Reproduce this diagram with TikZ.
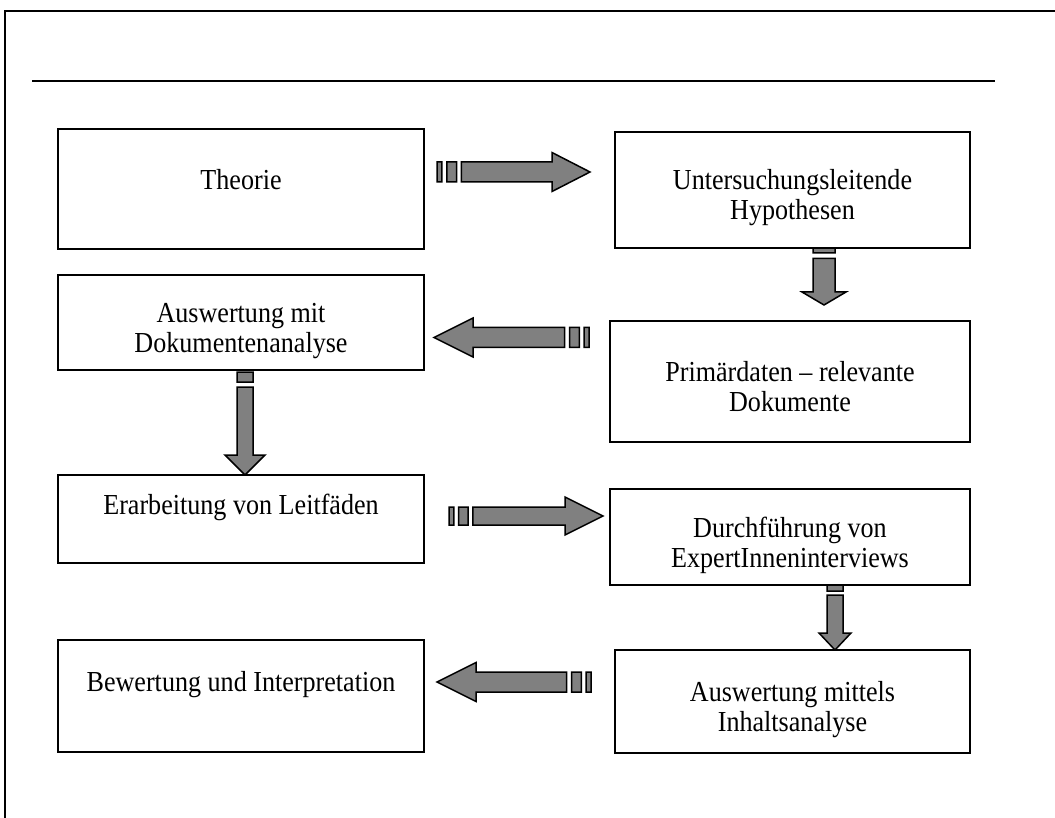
\documentclass[tikz,border=0pt]{standalone}
\usepackage{fontspec}
\setmainfont[FakeStretch=0.9]{Liberation Serif}
\usetikzlibrary{calc,backgrounds}
\definecolor{arrowgray}{RGB}{128,128,128}

\begin{document}
\begin{tikzpicture}[x=1pt,y=-1pt,
  box/.style={draw,line width=2pt,fill=white,align=center,inner sep=0pt,font=\fontsize{29}{30}\selectfont},
  upper/.style={text height=20pt,text depth=30pt},
  twolines/.style={text height=60pt,text depth=0pt},
  stripe arrow/.style n args={3}{draw=black,fill=arrowgray,line width=1.5pt,
    to path={let \p1=(\tikztostart), \p2=(\tikztotarget),
      \n1={atan2(\y2-\y1,\x2-\x1)}, \n2={veclen(\x2-\x1,\y2-\y1)}, \n3={#2/4*1pt} in
      {[shift={(\p1)},rotate=\n1]
        (0pt,-#1pt) rectangle (\n3,#1pt)
        ({2*\n3},-#1pt) rectangle ({4*\n3},#1pt)
        ({5*\n3},-#1pt) -- ({\n2-#3pt},-#1pt) -- ({\n2-#3pt},-#2pt) -- (\n2,0pt)
          -- ({\n2-#3pt},#2pt) -- ({\n2-#3pt},#1pt) -- ({5*\n3},#1pt) -- cycle}}}]

  \useasboundingbox (0,0) rectangle (1055,818);
  \draw[line width=2pt] (5,818) -- (5,11) -- (1055,11);
  \draw[line width=2.5pt] (32,81) -- (995,81);

  \node[box,text height=20pt,text depth=18pt,minimum width=366pt,minimum height=120pt] (theorie) at (241,189) {Theorie};
  \node[box,twolines,minimum width=355pt,minimum height=116pt] (hypothesen) at (792.5,190) {Untersuchungsleitende\\Hypothesen};
  \node[box,twolines,minimum width=366pt,minimum height=95pt] (auswdok) at (241,322.5) {Auswertung mit\\Dokumentenanalyse};
  \node[box,twolines,minimum width=360pt,minimum height=121pt] (primaer) at (790,381.5) {Primärdaten – relevante\\Dokumente};
  \node[box,upper,minimum width=366pt,minimum height=88pt] (leitfaeden) at (241,519) {Erarbeitung von Leitfäden};
  \node[box,twolines,minimum width=360pt,minimum height=96pt] (interviews) at (790,537) {Durchführung von\\ExpertInneninterviews};
  \node[box,upper,minimum width=366pt,minimum height=112pt] (bewertung) at (241,696) {Bewertung und Interpretation};
  \node[box,twolines,minimum width=355pt,minimum height=103pt] (inhalt) at (792.5,701.5) {Auswertung mittels\\Inhaltsanalyse};

  \coordinate (a1s) at (437,172);   \coordinate (a1e) at (590,172);
  \coordinate (a2s) at (589,337.5); \coordinate (a2e) at (434,337.5);
  \coordinate (d1s) at (824,231);   \coordinate (d1e) at (824,305);
  \coordinate (d2s) at (245,362);   \coordinate (d2e) at (245,475);
  \coordinate (a3s) at (449,516);   \coordinate (a3e) at (603,516);
  \coordinate (d3s) at (835,575);   \coordinate (d3e) at (835,650);
  \coordinate (a4s) at (591,682);   \coordinate (a4e) at (437,682);

  \begin{scope}[on background layer]
    \draw[stripe arrow={10}{19.5}{38}] (a1s) to (a1e);
    \draw[stripe arrow={10}{19.5}{39}] (a2s) to (a2e);
    \draw[stripe arrow={11}{22}{13}] (d1s) to (d1e);
    \draw[stripe arrow={8}{20}{20}] (d2s) to (d2e);
    \draw[stripe arrow={9}{19}{38}] (a3s) to (a3e);
    \draw[stripe arrow={8}{16}{17}] (d3s) to (d3e);
    \draw[stripe arrow={10}{19.5}{39}] (a4s) to (a4e);
  \end{scope}
\end{tikzpicture}
\end{document}
